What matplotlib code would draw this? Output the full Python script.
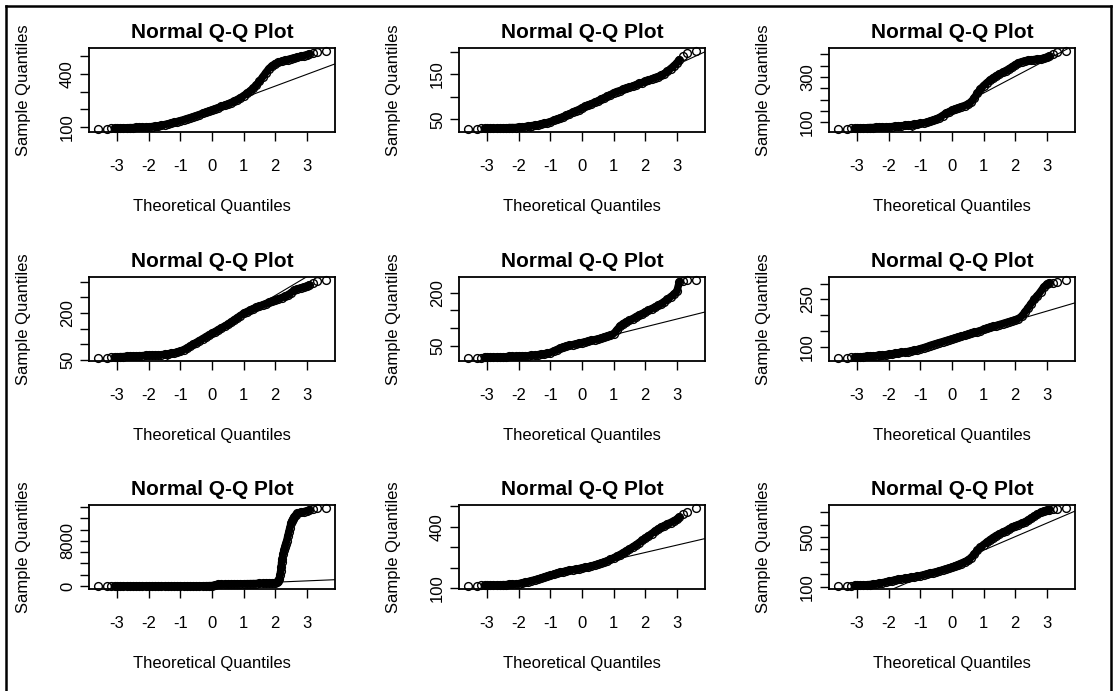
import matplotlib
matplotlib.use("Agg")
import matplotlib.pyplot as plt
from matplotlib.lines import Line2D

theoretical = [-3.6, -3.32, -3.18, -3.08,
               -3.0, -2.9, -2.8, -2.7, -2.6, -2.5, -2.4, -2.3, -2.2, -2.1,
               -2.0, -1.9, -1.8, -1.7, -1.6, -1.5, -1.4, -1.3, -1.2, -1.1,
               -1.0, -0.9, -0.8, -0.7, -0.6, -0.5, -0.4, -0.3, -0.2, -0.1,
               0.0, 0.1, 0.2, 0.3, 0.4, 0.5, 0.6, 0.7, 0.8, 0.9,
               1.0, 1.1, 1.2, 1.3, 1.4, 1.5, 1.6, 1.7, 1.8, 1.9,
               2.0, 2.1, 2.2, 2.3, 2.4, 2.5, 2.6, 2.7, 2.8, 2.9,
               3.0, 3.08, 3.18, 3.32, 3.6]

sample_1 = [91, 93, 94, 95,
            96, 96, 97, 97, 98, 98, 99, 99, 100, 101,
            102, 104, 106, 108, 111, 115, 119, 123, 127, 132,
            137, 142, 148, 153, 159, 165, 171, 178, 184, 191,
            197, 204, 210, 217, 223, 230, 238, 245, 255, 265,
            277, 289, 302, 318, 336, 357, 381, 405, 428, 444,
            456, 463, 469, 474, 479, 484, 488, 492, 497, 501,
            506, 510, 515, 521, 526]

sample_2 = [29, 29, 30, 30,
            30, 30, 30, 31, 31, 31, 31, 32, 32, 32,
            33, 33, 34, 35, 36, 37, 38, 40, 41, 43,
            45, 48, 50, 53, 56, 59, 62, 66, 69, 72,
            76, 79, 82, 85, 88, 91, 95, 98, 102, 105,
            109, 112, 114, 117, 119, 122, 124, 127, 130, 132,
            135, 137, 140, 143, 145, 148, 152, 157, 163, 169,
            176, 183, 192, 198, 202]

sample_3 = [71, 72, 73, 74,
            75, 75, 76, 76, 77, 77, 78, 78, 79, 79,
            80, 81, 82, 83, 84, 86, 88, 89, 91, 93,
            95, 97, 100, 104, 108, 114, 121, 130, 139, 146,
            153, 159, 164, 169, 174, 180, 190, 207, 228, 247,
            262, 274, 286, 296, 305, 313, 320, 328, 336, 345,
            354, 362, 367, 371, 373, 375, 377, 378, 380, 382,
            386, 392, 400, 408, 414]

sample_4 = [57, 58, 59, 60,
            60, 61, 61, 62, 62, 63, 63, 64, 64, 65,
            65, 66, 66, 67, 67, 68, 69, 71, 73, 75,
            78, 83, 88, 94, 100, 106, 112, 118, 124, 130,
            135, 141, 147, 153, 158, 164, 171, 178, 185, 192,
            199, 204, 209, 214, 218, 222, 226, 230, 234, 237,
            241, 245, 249, 253, 258, 265, 272, 277, 280, 283,
            286, 290, 296, 302, 305]

sample_5 = [17, 18, 18, 19,
            19, 19, 19, 20, 20, 20, 20, 21, 21, 21,
            22, 22, 23, 23, 24, 25, 26, 27, 28, 30,
            32, 36, 40, 44, 47, 50, 52, 54, 56, 58,
            60, 62, 64, 66, 68, 70, 72, 75, 77, 80,
            85, 95, 106, 113, 118, 122, 127, 132, 137, 141,
            146, 150, 155, 159, 164, 169, 175, 181, 188, 195,
            204, 231, 233, 234, 235]

sample_6 = [66, 67, 68, 68,
            69, 69, 70, 71, 71, 72, 73, 74, 75, 76,
            77, 78, 80, 81, 83, 84, 86, 88, 90, 92,
            95, 98, 101, 105, 108, 111, 114, 117, 120, 123,
            126, 129, 132, 134, 137, 140, 143, 146, 149, 152,
            156, 159, 162, 165, 168, 171, 174, 177, 180, 183,
            186, 190, 197, 210, 223, 237, 250, 262, 275, 289,
            298, 302, 303, 304, 311]

sample_7 = [0, 5, 5, 8,
            8, 8, 10, 10, 10, 10, 12, 12, 12, 13,
            13, 14, 14, 15, 15, 15, 16, 16, 17, 17,
            18, 18, 19, 20, 21, 22, 24, 26, 30, 40,
            60, 150, 300, 310, 320, 330, 340, 350, 360, 370,
            380, 390, 400, 410, 420, 430, 445, 460, 480, 510,
            600, 900, 4200, 6900, 8900, 11200, 12300, 12900, 13100, 13200,
            13350, 13500, 13650, 13800, 13830]

# panel 7 climbs so fast that extra points were read along the rise
steep_theoretical_7 = [2.05, 2.13, 2.15, 2.17, 2.19, 2.22, 2.25, 2.28,
                       2.33, 2.36, 2.43, 2.46, 2.53, 2.56, 2.65]
steep_sample_7 = [650, 1300, 1900, 2600, 3300, 4800, 5700, 6400,
                  7500, 8000, 9600, 10300, 11600, 11900, 12650]

sample_8 = [112, 113, 114, 115,
            115, 116, 116, 117, 117, 118, 118, 119, 120, 121,
            123, 126, 129, 133, 137, 141, 145, 149, 153, 158,
            163, 168, 173, 178, 181, 184, 187, 190, 193, 196,
            199, 202, 205, 209, 213, 218, 223, 228, 234, 241,
            248, 256, 264, 273, 282, 291, 301, 311, 322, 333,
            344, 355, 366, 377, 388, 397, 405, 413, 420, 428,
            436, 447, 460, 472, 490]

sample_9 = [108, 110, 111, 112,
            113, 114, 115, 117, 119, 121, 124, 128, 133, 139,
            145, 150, 155, 160, 164, 168, 172, 176, 180, 185,
            190, 197, 203, 210, 215, 220, 228, 236, 244, 251,
            258, 266, 276, 287, 298, 312, 335, 362, 392, 418,
            440, 458, 478, 496, 512, 525, 538, 550, 565, 578,
            590, 600, 610, 620, 635, 652, 668, 683, 697, 708,
            715, 720, 724, 728, 732]

x_ticks = [-3, -2, -1, 0, 1, 2, 3]
x_tick_labels = ["-3", "-2", "-1", "0", "1", "2", "3"]

y_ticks = [
    [100, 200, 300, 400, 500],
    [50, 100, 150, 200],
    [100, 150, 200, 250, 300, 350, 400],
    [50, 100, 150, 200, 250, 300],
    [50, 100, 150, 200],
    [100, 150, 200, 250, 300],
    [0, 2000, 4000, 6000, 8000, 10000, 12000, 14000],
    [100, 200, 300, 400, 500],
    [100, 200, 300, 400, 500, 600, 700],
]
y_tick_labels = [
    ["100", "", "", "400", ""],
    ["50", "", "150", ""],
    ["100", "", "", "", "300", "", ""],
    ["50", "", "", "200", "", ""],
    ["50", "", "", "200"],
    ["100", "", "", "250", ""],
    ["0", "", "", "", "8000", "", "", ""],
    ["100", "", "", "400", ""],
    ["100", "", "", "", "500", "", ""],
]

samples = [sample_1, sample_2, sample_3, sample_4, sample_5,
           sample_6, sample_7, sample_8, sample_9]

plt.rcParams["font.family"] = ["Liberation Sans", "DejaVu Sans"]

W, H = 1117, 691
fig = plt.figure(figsize=(W / 100, H / 100), dpi=100)
fig.patch.set_facecolor("white")

col_left = [89, 459, 829]
row_top = [48, 277, 505]
box_w, box_h = 246, 84

for i, ys in enumerate(samples):
    r, c = divmod(i, 3)
    ax = fig.add_axes([col_left[c] / W, 1 - (row_top[r] + box_h) / H, box_w / W, box_h / H])

    pairs = list(zip(theoretical, ys))
    if i == 6:
        pairs += list(zip(steep_theoretical_7, steep_sample_7))
    pairs.sort()
    xs = [p[0] for p in pairs]
    pts_y = [p[1] for p in pairs]

    # thousands of overlapping circles make a solid band in the middle
    core = [p for p in pairs if -3.1 < p[0] < 3.1]
    ax.plot([p[0] for p in core], [p[1] for p in core], color="black",
            lw=5.4, solid_capstyle="round", solid_joinstyle="round")
    ax.plot(xs, pts_y, "o", mfc="none", mec="black", ms=5.6, mew=1.0, clip_on=False)

    # qqline through the lower and upper quartile points
    q1 = ys[theoretical.index(-0.7)]
    q3 = ys[theoretical.index(0.7)]
    slope = (q3 - q1) / 1.4
    ax.axline((0, q1 + 0.7 * slope), slope=slope, color="black", lw=0.8)

    # R style axis ranges: data range widened by 4%
    xlo, xhi = min(xs), max(xs)
    ylo, yhi = min(pts_y), max(pts_y)
    ax.set_xlim(xlo - 0.04 * (xhi - xlo), xhi + 0.04 * (xhi - xlo))
    ax.set_ylim(ylo - 0.04 * (yhi - ylo), yhi + 0.04 * (yhi - ylo))

    ax.set_xticks(x_ticks)
    ax.set_xticklabels(x_tick_labels)
    ax.set_yticks(y_ticks[i])
    ax.set_yticklabels(y_tick_labels[i], rotation=90, va="center")

    for s in ax.spines.values():
        s.set_linewidth(1.3)
    ax.tick_params(direction="out", length=6.5, width=1.0, labelsize=12, colors="black")
    ax.tick_params(axis="x", pad=13)
    ax.tick_params(axis="y", pad=3.5)

    ax.set_title("Normal Q-Q Plot", fontsize=15, fontweight="bold", pad=7)
    ax.set_xlabel("Theoretical Quantiles", fontsize=12, labelpad=18)
    ax.set_ylabel("Sample Quantiles", fontsize=12, labelpad=21)

# frame around the screenshot (no bottom edge)
bx0, bx1, by1 = 6 / W, 1111 / W, 1 - 6 / H
for xd, yd in [([bx0, bx0], [0, by1]), ([bx0, bx1], [by1, by1]), ([bx1, bx1], [0, by1])]:
    fig.add_artist(Line2D(xd, yd, transform=fig.transFigure, color="black", lw=1.8))

fig.savefig("out.png", dpi=100)
